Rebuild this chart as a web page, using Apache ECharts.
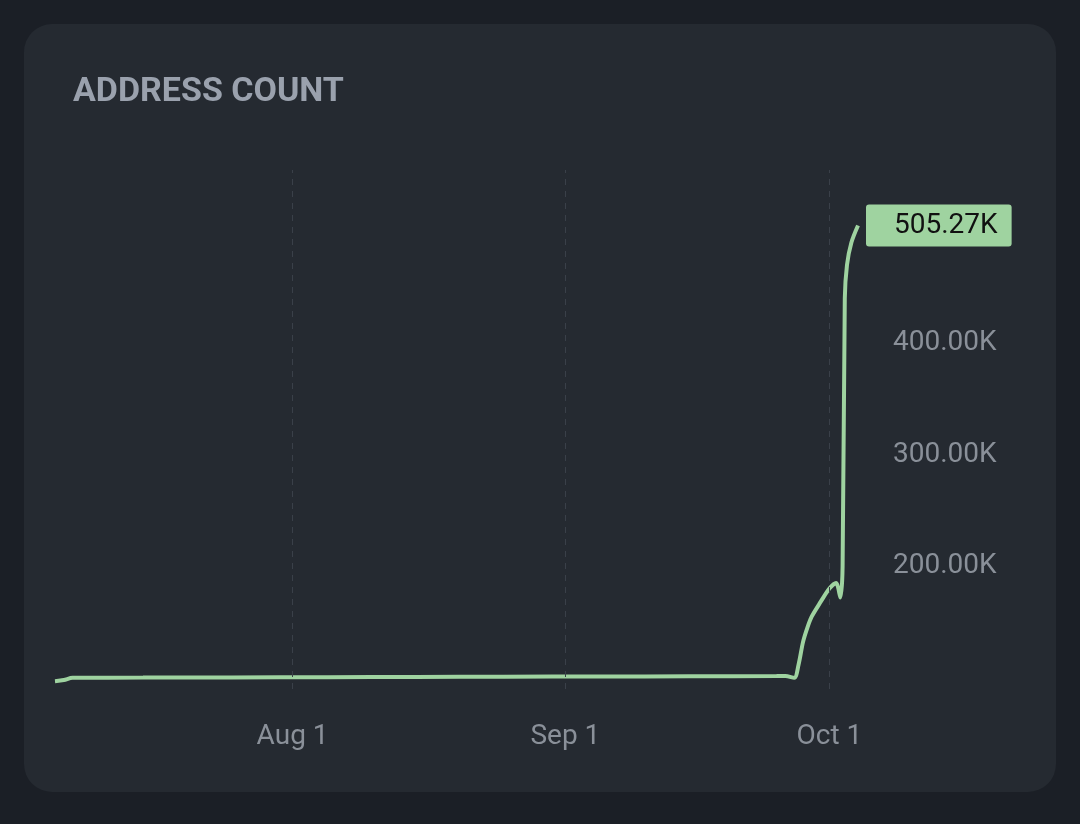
<!DOCTYPE html>
<html><head><meta charset="utf-8">
<script src="https://cdn.jsdelivr.net/npm/echarts@6/dist/echarts.min.js"></script>
<style>html,body{margin:0;background:#1b1f26;}#c{width:1080px;height:824px;}</style>
</head><body><div id="c"></div>
<script>
const dates = ['2024-07-05','2024-07-06','2024-07-07','2024-07-15','2024-07-25','2024-08-05','2024-08-15','2024-08-25','2024-09-05','2024-09-15','2024-09-25','2024-09-26','2024-09-27T00:00','2024-09-27T12:00','2024-09-28','2024-09-28T12:00','2024-09-29','2024-09-30','2024-10-01','2024-10-01T18:00','2024-10-02T06:00','2024-10-02T12:00','2024-10-02T18:00','2024-10-03','2024-10-03T12:00','2024-10-04T06:00'];
const values = [97000,98000,100000,100200,100400,100600,100800,101000,101200,101400,101600,101700,100000,112000,132000,145000,155000,168000,180000,185000,172000,200000,440000,470000,490000,505270];
const monthTicks = ['2024-08-01','2024-09-01','2024-10-01'];
const yLabels = [200000,300000,400000];
const ts = d => Date.parse(d.length===10 ? d+'T00:00:00Z' : d+':00Z');
const fmtK = v => (v/1000).toFixed(2)+'K';
const MONTHS=['Jan','Feb','Mar','Apr','May','Jun','Jul','Aug','Sep','Oct','Nov','Dec'];
const chart = echarts.init(document.getElementById('c'));
chart.setOption({
  backgroundColor:'#1b1f26',
  graphic:[{type:'rect',shape:{x:24,y:24,width:1032,height:768,r:28},style:{fill:'#252a31'},z:-10}],
  title:{text:'ADDRESS COUNT',left:68,top:70,textStyle:{color:'#9aa1ad',fontSize:34,fontWeight:'bold',fontFamily:'Roboto'}},
  grid:{left:55,right:222,top:170,bottom:135},
  xAxis:{type:'value',min:ts(dates[0]),max:ts(dates[dates.length-1]),
    axisLine:{show:false},axisTick:{show:false},splitLine:{show:false},
    axisLabel:{customValues:monthTicks.map(ts),margin:34,color:'#8a9099',fontSize:28,fontFamily:'Roboto',
      formatter:v=>{const d=new Date(v);return MONTHS[d.getUTCMonth()]+' '+d.getUTCDate();}}},
  yAxis:{type:'value',position:'right',min:90000,max:555000,
    axisLine:{show:false},axisTick:{show:false},splitLine:{show:false},
    axisLabel:{customValues:yLabels,margin:35,color:'#8a9099',fontSize:28,fontFamily:'Roboto',formatter:fmtK}},
  series:[{type:'line',data:dates.map((d,i)=>[ts(d),values[i]]),smooth:0.3,symbol:'none',
    lineStyle:{color:'#9fd3a0',width:4},
    endLabel:{show:true,formatter:p=>fmtK(p.value[1]),distance:8,backgroundColor:'#9fd3a0',color:'#111',fontSize:28,fontFamily:'Roboto',padding:[7,14,7,28],borderRadius:3},
    markLine:{silent:true,symbol:'none',label:{show:false},lineStyle:{color:'#3a4049',type:[6,6],width:1},
      data:monthTicks.map(d=>({xAxis:ts(d)}))}
  }]
});
</script></body></html>
